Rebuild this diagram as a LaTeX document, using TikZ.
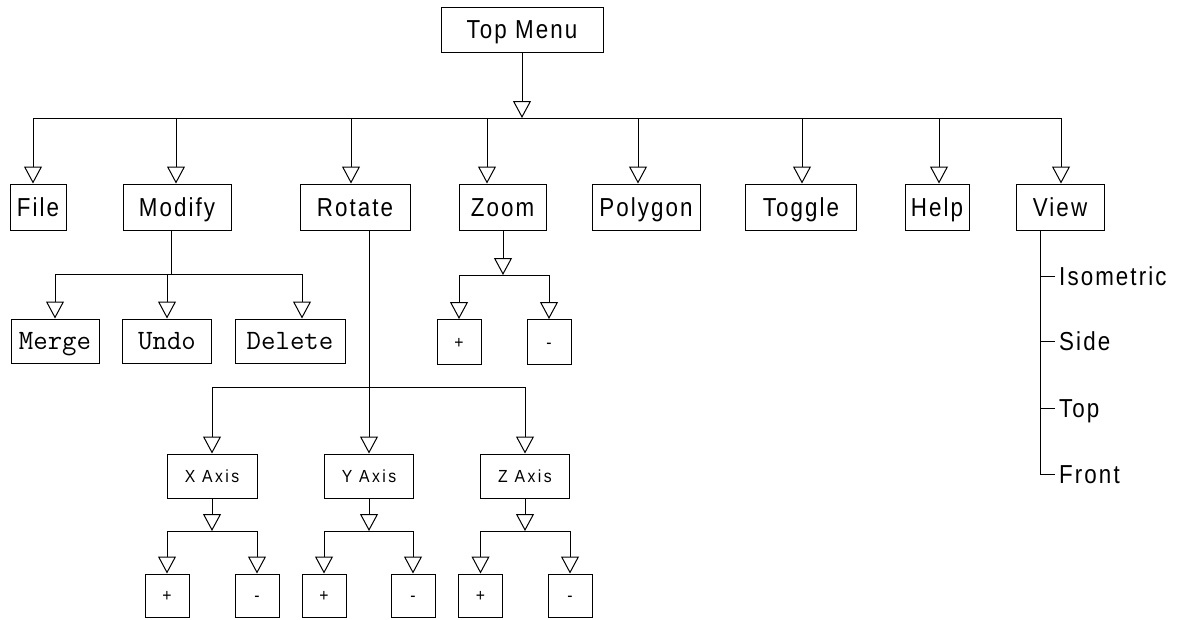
\documentclass[tikz,border=0pt]{standalone}
\usepackage{fontspec}
\usetikzlibrary{arrows.meta}
\newfontfamily\hv[LetterSpace=8,FakeStretch=0.86]{Liberation Sans}
\newfontfamily\hvs[LetterSpace=14,FakeStretch=0.9]{Liberation Sans}
\begin{document}
\begin{tikzpicture}[x=1pt,y=-1pt,
  box/.style={draw, line width=1pt, inner sep=0pt, minimum height=46pt,
    text height=18.5pt, text depth=0pt,
    font=\hv\fontsize{26}{30}\selectfont},
  cbox/.style={box, minimum height=44pt, text height=16pt,
    font=\ttfamily\fontsize{28}{32}\selectfont},
  sbox/.style={draw, line width=1pt, inner sep=0pt, minimum height=44pt,
    text height=12.5pt, text depth=0pt,
    font=\hvs\fontsize{17.5}{22}\selectfont},
  pm/.style={sbox, minimum width=44pt, minimum height=43pt},
  lbl/.style={anchor=west, inner sep=4pt, text height=18.5pt, text depth=0pt,
    font=\hv\fontsize{26}{30}\selectfont},
  arr/.style={-{Triangle[open,length=17pt,width=18pt]}, line width=1pt},
  ln/.style={line width=1pt}]
\useasboundingbox (0,0) rectangle (1183,619);

% top
\node[box, minimum width=162pt, minimum height=45pt] (top) at (522,29.5) {Top Menu};

% row 1
\node[box, minimum width=56pt]  (file)   at (38,207)    {File};
\node[box, minimum width=108pt] (modify) at (177,207)   {Modify};
\node[box, minimum width=110pt] (rotate) at (355,207)   {Rotate};
\node[box, minimum width=87pt]  (zoom)   at (502.5,207) {Zoom};
\node[box, minimum width=108pt] (poly)   at (646,207)   {Polygon};
\node[box, minimum width=111pt] (toggle) at (801,207)   {Toggle};
\node[box, minimum width=64pt]  (help)   at (937,207)   {Help};
\node[box, minimum width=88pt]  (view)   at (1060,207)  {View};

% bus 1
\coordinate (b1) at (33,118);
\coordinate (b2) at (176,118);
\coordinate (b3) at (351,118);
\coordinate (b4) at (487,118);
\coordinate (b5) at (638,118);
\coordinate (b6) at (802,118);
\coordinate (b7) at (939,118);
\coordinate (b8) at (1061,118);
\draw[arr] (top.south) -- (top.south |- b1);
\draw[ln] (b1) -- (b8);
\foreach \c/\n in {b1/file,b2/modify,b3/rotate,b4/zoom,b5/poly,b6/toggle,b7/help,b8/view}
  \draw[arr] (\c) -- (\c |- \n.north);

% modify subtree
\node[cbox, minimum width=88pt]  (merge)  at (55,341)  {Merge};
\node[cbox, minimum width=89pt]  (undo)   at (167,341) {Undo};
\node[cbox, minimum width=110pt] (delete) at (290,341) {Delete};
\coordinate (mtop) at (171,230);
\coordinate (m1) at (55,274);
\coordinate (m2) at (167,274);
\coordinate (m3) at (302,274);
\draw[ln] (mtop) -- (mtop |- m1);
\draw[ln] (m1) -- (m3);
\draw[arr] (m1) -- (m1 |- merge.north);
\draw[arr] (m2) -- (m2 |- undo.north);
\draw[arr] (m3) -- (m3 |- delete.north);

% zoom subtree
\node[pm, minimum height=45pt] (zp) at (459,342) {+};
\node[pm, minimum height=45pt] (zm) at (549,342) {-};
\coordinate (z0) at (503,275);
\draw[arr] (zoom.south -| z0) -- (z0);
\draw[ln] (zp.north |- z0) -- (zm.north |- z0);
\draw[arr] (zp.north |- z0) -- (zp.north);
\draw[arr] (zm.north |- z0) -- (zm.north);

% rotate subtree
\node[sbox, minimum width=90pt] (xa) at (212,476) {X Axis};
\node[sbox, minimum width=89pt] (ya) at (369,476) {Y Axis};
\node[sbox, minimum width=89pt] (za) at (525,476) {Z Axis};
\coordinate (r0) at (369,387);
\draw[ln] (rotate.south -| r0) -- (r0);
\draw[ln] (xa.north |- r0) -- (za.north |- r0);
\draw[arr] (xa.north |- r0) -- (xa.north);
\draw[arr] (r0) -- (ya.north);
\draw[arr] (za.north |- r0) -- (za.north);

% axis subtrees
\node[pm] (xp) at (167,595.5) {+};
\node[pm] (xm) at (257,595.5) {-};
\node[pm] (yp) at (324,595.5) {+};
\node[pm] (ym) at (413,595.5) {-};
\node[pm] (zzp) at (480.5,595.5) {+};
\node[pm] (zzm) at (570,595.5) {-};
\coordinate (xb) at (212,531);
\coordinate (yb) at (369,531);
\coordinate (zb) at (525,531);
\draw[arr] (xa.south) -- (xb);
\draw[arr] (ya.south) -- (yb);
\draw[arr] (za.south) -- (zb);
\draw[ln] (xp.north |- xb) -- (xm.north |- xb);
\draw[ln] (yp.north |- yb) -- (ym.north |- yb);
\draw[ln] (zzp.north |- zb) -- (zzm.north |- zb);
\foreach \n/\c in {xp/xb,xm/xb,yp/yb,ym/yb,zzp/zb,zzm/zb}
  \draw[arr] (\n.north |- \c) -- (\n.north);

% view list
\node[lbl] (iso)   at (1055,276) {Isometric};
\node[lbl] (side)  at (1055,341) {Side};
\node[lbl] (vtop)  at (1055,408) {Top};
\node[lbl] (front) at (1055,474) {Front};
\coordinate (vb) at (1040,230);
\draw[ln] (vb) |- (front.west);
\draw[ln] (vb |- iso.west) -- (iso.west);
\draw[ln] (vb |- side.west) -- (side.west);
\draw[ln] (vb |- vtop.west) -- (vtop.west);
\end{tikzpicture}
\end{document}
